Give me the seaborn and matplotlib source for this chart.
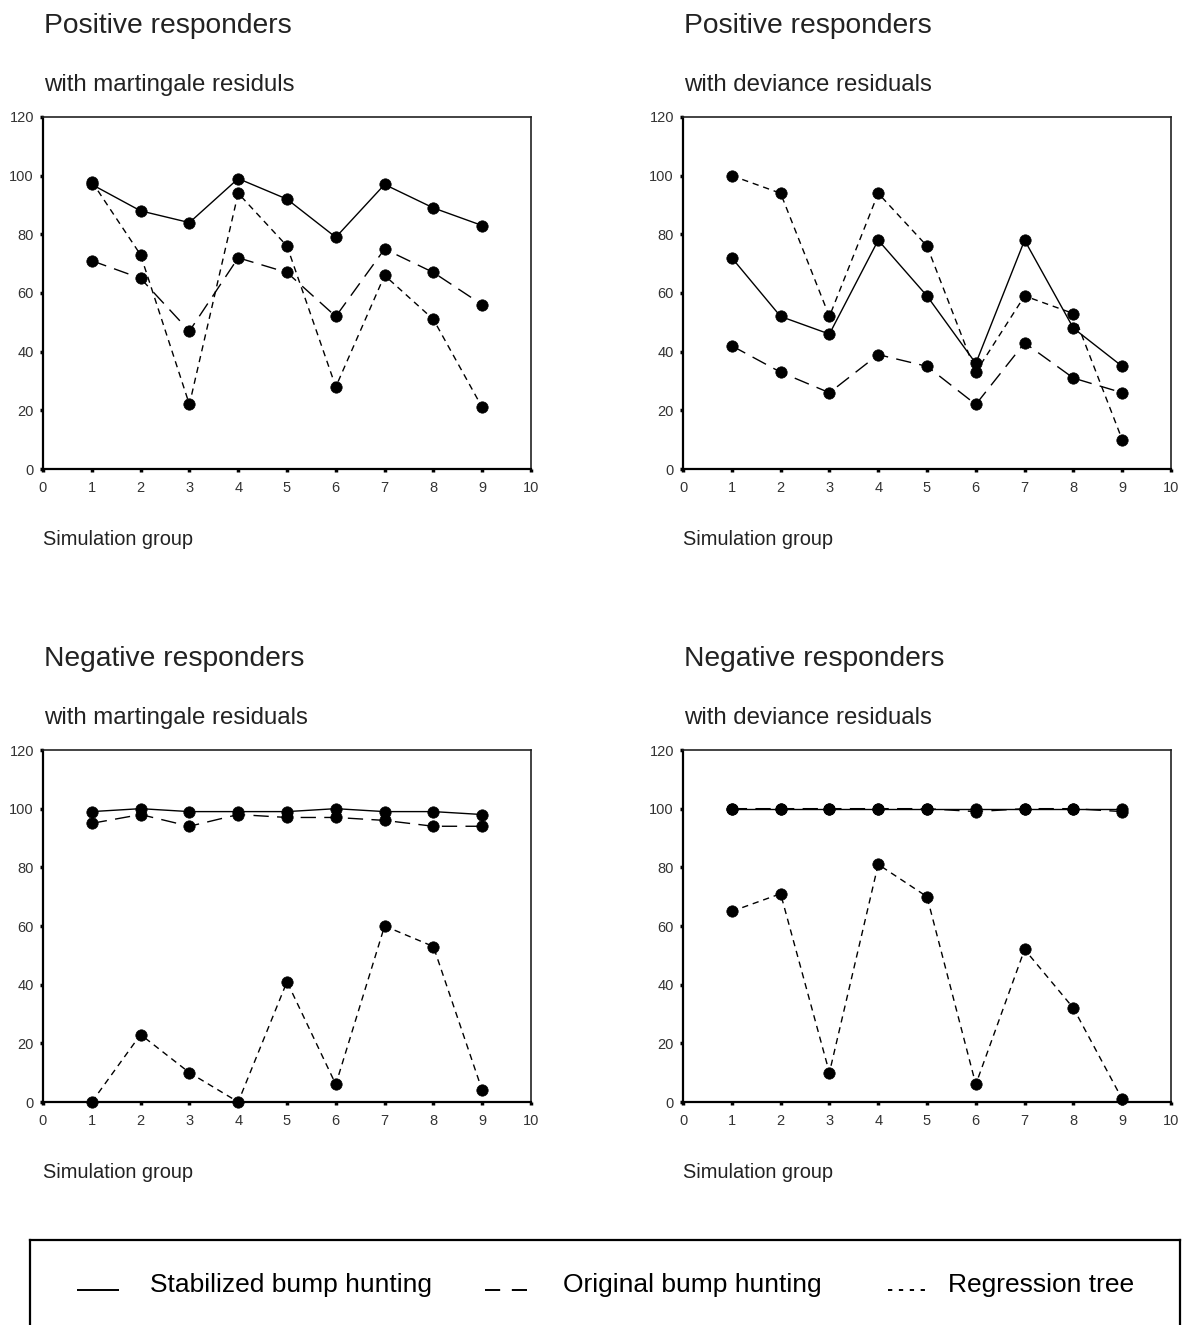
import numpy as np
import pandas as pd
import matplotlib
matplotlib.use("Agg")
import matplotlib.pyplot as plt
import seaborn as sns

# ---------------- data ----------------
groups = [1, 2, 3, 4, 5, 6, 7, 8, 9]
methods = ["Stabilized bump hunting", "Original bump hunting", "Regression tree"]

pos_mart_stab = [97, 88, 84, 99, 92, 79, 97, 89, 83]
pos_mart_orig = [71, 65, 47, 72, 67, 52, 75, 67, 56]
pos_mart_tree = [98, 73, 22, 94, 76, 28, 66, 51, 21]

pos_dev_stab = [72, 52, 46, 78, 59, 36, 78, 48, 35]
pos_dev_orig = [42, 33, 26, 39, 35, 22, 43, 31, 26]
pos_dev_tree = [100, 94, 52, 94, 76, 33, 59, 53, 10]

neg_mart_stab = [99, 100, 99, 99, 99, 100, 99, 99, 98]
neg_mart_orig = [95, 98, 94, 98, 97, 97, 96, 94, 94]
neg_mart_tree = [0, 23, 10, 0, 41, 6, 60, 53, 4]

neg_dev_stab = [100, 100, 100, 100, 100, 100, 100, 100, 100]
neg_dev_orig = [100, 100, 100, 100, 100, 99, 100, 100, 99]
neg_dev_tree = [65, 71, 10, 81, 70, 6, 52, 32, 1]

titles = ["Positive responders", "Positive responders",
          "Negative responders", "Negative responders"]
subtitles = ["with martingale residuls", "with deviance residuals",
             "with martingale residuals", "with deviance residuals"]
x_label = "Simulation group"
x_ticks = [0, 1, 2, 3, 4, 5, 6, 7, 8, 9, 10]
y_ticks = [0, 20, 40, 60, 80, 100, 120]

panels = [
    (pos_mart_stab, pos_mart_orig, pos_mart_tree),
    (pos_dev_stab, pos_dev_orig, pos_dev_tree),
    (neg_mart_stab, neg_mart_orig, neg_mart_tree),
    (neg_dev_stab, neg_dev_orig, neg_dev_tree),
]

# ---------------- style ----------------
sns.set_style("white")
plt.rcParams["font.family"] = ["Liberation Sans", "DejaVu Sans"]

W, H = 1185, 1325
fig = plt.figure(figsize=(W / 100, H / 100), dpi=100)


def fx(x):
    return x / W


def fy(y):
    return 1 - y / H


dash_map = {methods[0]: "", methods[1]: (11, 6), methods[2]: (4.5, 3.5)}
pal = {m: "black" for m in methods}
mk = {m: "o" for m in methods}

# axes placement in pixels: (left, top)
positions = [(43, 117), (683, 117), (43, 750), (683, 750)]
aw, ah = 488, 352

for i, (vals, (lx, ty)) in enumerate(zip(panels, positions)):
    ax = fig.add_axes([fx(lx), fy(ty + ah), aw / W, ah / H])
    df = pd.DataFrame({
        "group": groups * 3,
        "value": list(vals[0]) + list(vals[1]) + list(vals[2]),
        "method": [methods[0]] * 9 + [methods[1]] * 9 + [methods[2]] * 9,
    })
    sns.lineplot(data=df, x="group", y="value", hue="method", style="method",
                 palette=pal, dashes=dash_map, markers=mk, markersize=8.2,
                 markeredgecolor="black", markeredgewidth=0.5, lw=1.0,
                 estimator=None, errorbar=None, legend=False, ax=ax,
                 clip_on=False)
    ax.set_xlim(0, 10)
    ax.set_ylim(0, 120)
    ax.set_xticks(x_ticks)
    ax.set_yticks(y_ticks)
    ax.set_xticklabels([str(t) for t in x_ticks])
    ax.set_yticklabels([str(t) for t in y_ticks])
    ax.set_xlabel("")
    ax.set_ylabel("")
    ax.tick_params(axis="both", which="major", direction="out", length=2.5,
                   width=2.5, color="black", labelsize=10.5,
                   labelcolor="#333333", bottom=True, left=True)
    ax.tick_params(axis="x", pad=6)
    ax.tick_params(axis="y", pad=4)
    for side in ["left", "bottom"]:
        ax.spines[side].set_linewidth(1.6)
        ax.spines[side].set_color("black")
    for side in ["top", "right"]:
        ax.spines[side].set_linewidth(1.2)
        ax.spines[side].set_color("#222222")
    ax.set_facecolor("white")

    # texts
    fig.text(fx(lx + 1), fy(ty - 84), titles[i], fontsize=20.3,
             color="#222222", va="baseline", ha="left")
    fig.text(fx(lx + 1), fy(ty - 26), subtitles[i], fontsize=17.3,
             color="#222222", va="baseline", ha="left")
    fig.text(fx(lx), fy(ty + ah + 76), x_label, fontsize=14.4,
             color="#222222", va="baseline", ha="left")

# ---------------- legend box ----------------
lax = fig.add_axes([fx(30), fy(1332), 1150 / W, (1332 - 1240) / H])
lax.set_xlim(30, 1180)
lax.set_ylim(1332, 1240)
lax.set_xticks([])
lax.set_yticks([])
for s in lax.spines.values():
    s.set_linewidth(1.6)
    s.set_color("black")

leg_handles = [
    (77, 119, "-"),
    (485, 527, (0, (7.8, 6.0))),
    (888, 926, (0, (2.2, 3.4))),
]
text_x = [150, 563, 948]
for (x0, x1, ls), tx, name in zip(leg_handles, text_x, methods):
    lax.plot([x0, x1], [1290, 1290], color="black", lw=1.4, linestyle=ls,
             solid_capstyle="butt", dash_capstyle="butt")
    lax.text(tx, 1292, name, fontsize=19, color="black", va="baseline",
             ha="left")

fig.savefig("out.png", dpi=100, facecolor="white")
